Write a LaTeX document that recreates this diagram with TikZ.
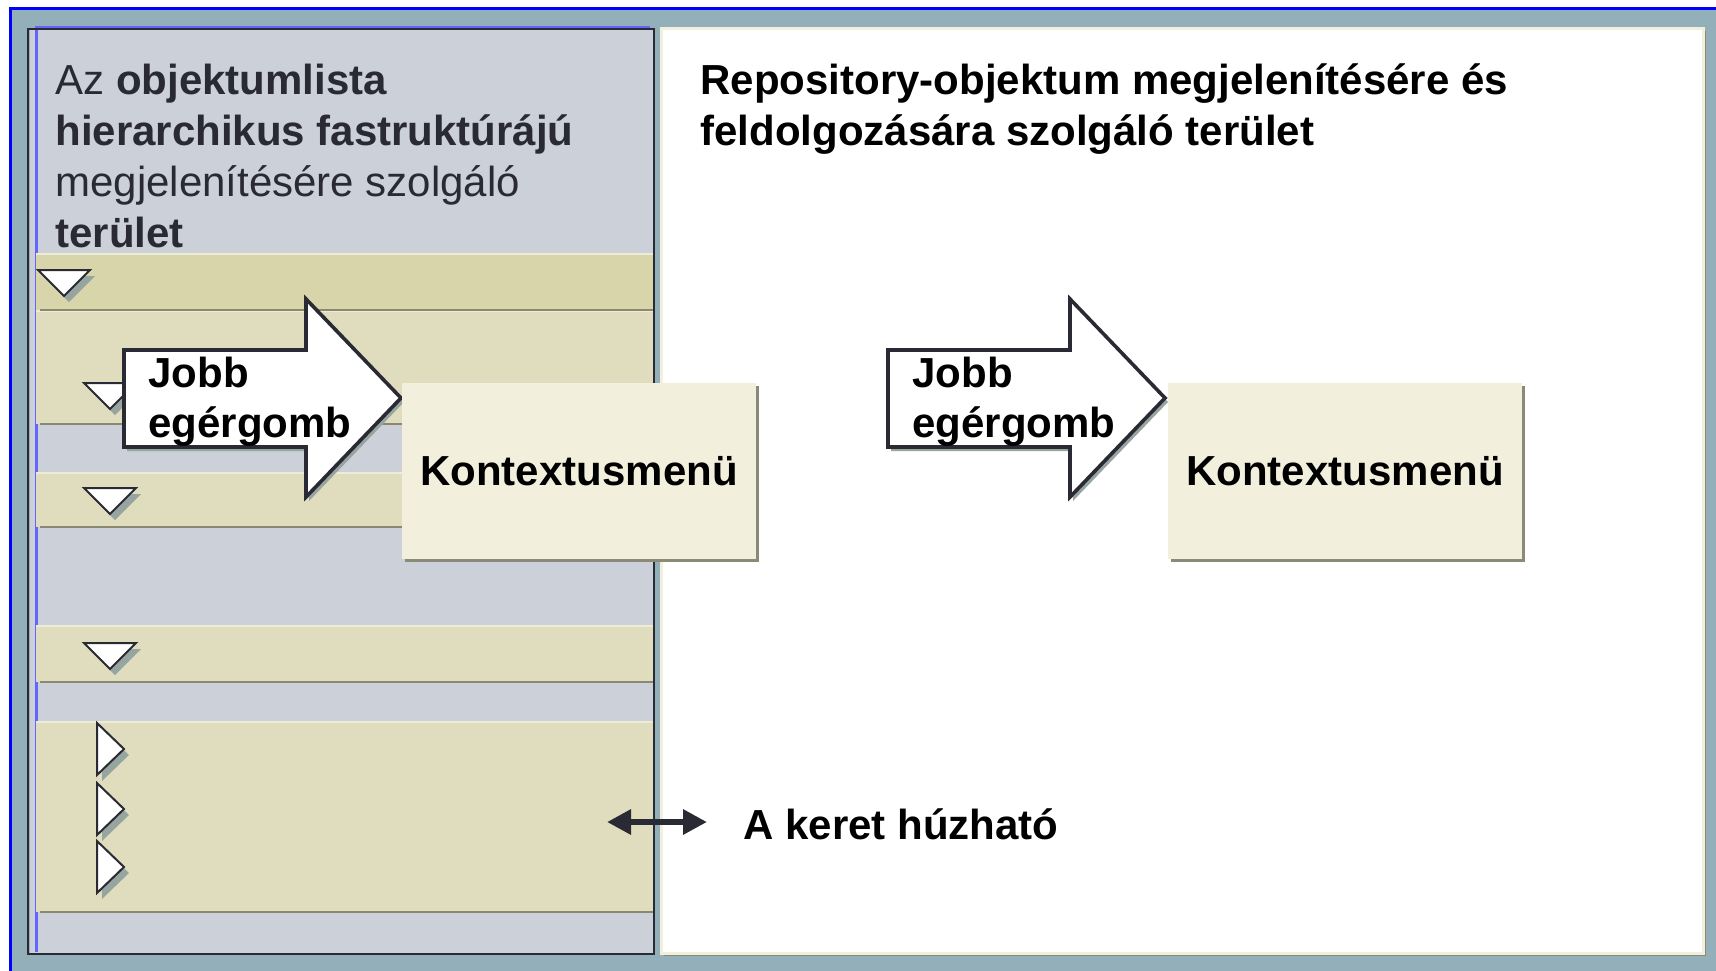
\documentclass[tikz,border=0pt]{standalone}
\usepackage{fontspec}
\setmainfont{Liberation Sans}
\usepackage{xcolor}
\definecolor{cbg}{RGB}{147, 176, 186}
\definecolor{cblue}{RGB}{0, 0, 255}
\definecolor{chigh}{RGB}{100, 100, 255}
\definecolor{cpanel}{RGB}{203, 208, 217}
\definecolor{ctanA}{RGB}{216, 213, 170}
\definecolor{ctanB}{RGB}{223, 221, 189}
\definecolor{clight}{RGB}{238, 236, 212}
\definecolor{cline}{RGB}{138, 136, 112}
\definecolor{cdark}{RGB}{42, 42, 52}
\definecolor{cmenu}{RGB}{242, 240, 220}
\definecolor{cshadow}{RGB}{138, 138, 120}
\definecolor{ctrishadow}{RGB}{150, 165, 160}
\usepackage{tikz}
\usetikzlibrary{arrows.meta, shadows}

\tikzset{
  bigfont/.style={font=\fontsize{21}{25.5}\selectfont},
  paneltext/.style={bigfont, anchor=base west, inner sep=0pt, align=left},
  tri/.style={
    fill=white,
    draw=cdark,
    line width=1pt,
    drop shadow={shadow xshift=2.5pt, shadow yshift=-3pt, fill=ctrishadow, opacity=1}
  },
  blockarrow/.style={
    fill=white,
    draw=cdark,
    line width=1.8pt,
    drop shadow={shadow xshift=1.5pt, shadow yshift=-2pt, fill=ctrishadow, opacity=1}
  },
  menubox/.style={
    bigfont,
    fill=cmenu,
    inner sep=0pt,
    minimum width=177pt,
    minimum height=88pt,
    drop shadow={shadow xshift=1.5pt, shadow yshift=-1.5pt, fill=cshadow, opacity=1}
  },
  dragarrow/.style={
    draw=cdark,
    line width=3pt,
    {Triangle[length=12pt,width=12pt]}-{Triangle[length=12pt,width=12pt]}
  }
}

\begin{document}
\begin{tikzpicture}[x=0.5pt, y=-0.5pt]
  \useasboundingbox (0,0) rectangle (1716,970);
  \clip (0,0) rectangle (1716,970);
  \fill[white] (0,0) rectangle (1716,970);
  \draw[cblue, line width=1.5pt, fill=cbg] (10,8) rectangle (1740,1000);

  % left panel
  \fill[cpanel] (30,30) rectangle (653,953);
  \draw[chigh, line width=1pt] (35,27) -- (650,27);
  \draw[chigh, line width=1.5pt] (36,30) -- (36,952);
  \foreach \ya/\yb/\col in {253/310/ctanA, 310/424/ctanB, 472/527/ctanB, 625/682/ctanB, 721/912/ctanB}{
    \fill[\col] (36,\ya) rectangle (653,\yb);
    \draw[clight, line width=1pt] (36,\ya+1) -- (653,\ya+1);
  }
  \foreach \yb in {310, 424, 527, 682, 912}
    \draw[cline, line width=1pt] (40,\yb) -- (653,\yb);
  \draw[cdark, line width=1.2pt] (28,29) rectangle (654,954);

  \foreach \x/\y in {64/270, 110/383, 110/488, 110/643}
    \draw[tri] (\x-26,\y) -- (\x+26,\y) -- (\x,\y+26) -- cycle;
  \foreach \y in {723, 783, 841}
    \draw[tri] (97,\y) -- (124,\y+26) -- (97,\y+52) -- cycle;

  \node[paneltext, text=cdark] (lefttitle) at (55,247)
    {Az \textbf{objektumlista}\\\textbf{hierarchikus fastruktúrájú}\\megjelenítésére szolgáló\\\textbf{terület}};

  % right panel
  \draw[cmenu, line width=1.5pt, fill=white,
    drop shadow={shadow xshift=1.5pt, shadow yshift=-1.5pt, fill=cshadow, opacity=1}]
    (661,28) rectangle (1703,953);
  \node[paneltext, font=\fontsize{21}{25.5}\selectfont\bfseries] (righttitle) at (700,145)
    {Repository-objektum megjelenítésére és\\feldolgozására szolgáló terület};

  % right click arrows and menus
  \foreach \dx in {0, 764}
    \draw[blockarrow] (124+\dx,350) -- (306+\dx,350) -- (306+\dx,299) -- (401+\dx,398)
      -- (306+\dx,497) -- (306+\dx,447) -- (124+\dx,447) -- cycle;
  \node[paneltext, font=\fontsize{21}{25}\selectfont\bfseries] (jobbA) at (148,437) {Jobb\\egérgomb};
  \node[paneltext, font=\fontsize{21}{25}\selectfont\bfseries] (jobbB) at (912,437) {Jobb\\egérgomb};
  \node[menubox, font=\fontsize{21}{25}\selectfont\bfseries] (menuA) at (579,471) {Kontextusmenü};
  \node[menubox, font=\fontsize{21}{25}\selectfont\bfseries] (menuB) at (1345,471) {Kontextusmenü};

  % draggable frame
  \coordinate (dragL) at (607,822);
  \coordinate (dragR) at (707,822);
  \draw[dragarrow] (dragL) -- (dragR);
  \node[paneltext, font=\fontsize{21}{25}\selectfont\bfseries] (dragtext) at (743,839) {A keret húzható};
\end{tikzpicture}
\end{document}
